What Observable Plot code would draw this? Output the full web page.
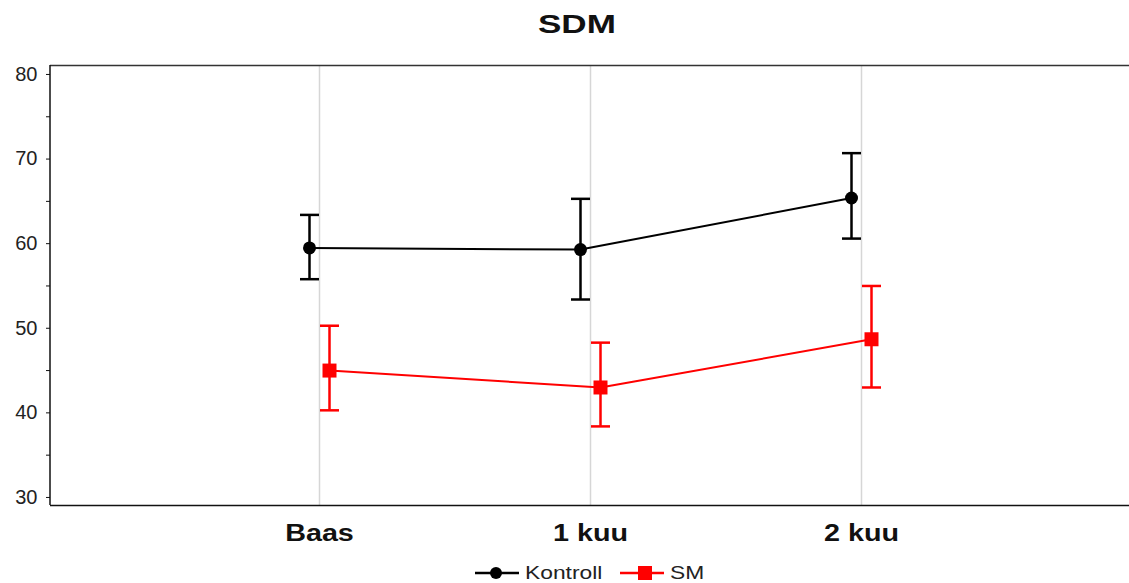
<!DOCTYPE html>
<html>
<head>
<meta charset="utf-8">
<script src="https://cdn.jsdelivr.net/npm/d3@7"></script>
<script src="https://cdn.jsdelivr.net/npm/@observablehq/plot@0.6"></script>
<style>
  body { margin: 0; background: #fff; font-family: "Liberation Sans", Arial, sans-serif; }
  #wrap { position: relative; width: 1129px; height: 583px; overflow: hidden; }
  #title { position: absolute; left: 0; top: 9px; width: 1129px; box-sizing: border-box; padding-left: 25px; text-align: center; font-weight: bold; font-size: 26px; line-height: 30px; color: #111; }
  #title span { display: inline-block; transform: scaleX(1.35); }
  #chart { position: absolute; left: 0; top: 50px; }
  #legend { position: absolute; left: 475px; top: 562px; height: 22px; display: flex; align-items: center; font-size: 19px; color: #222; }
  #legend .item { display: flex; align-items: center; }
  #legend svg { margin-right: 6px; }
  #legend span { display: inline-block; transform: scaleX(1.2); transform-origin: left center; }
</style>
</head>
<body>
<div id="wrap">
  <div id="title"><span>SDM</span></div>
  <div id="chart"></div>
  <div id="legend"></div>
</div>
<script>
const categories = ["Baas", "1 kuu", "2 kuu"];
const seriesNames = ["Kontroll", "SM"];
const kontrollMean = [59.5, 59.3, 65.4];
const kontrollHi   = [63.4, 65.3, 70.7];
const kontrollLo   = [55.8, 53.4, 60.6];
const smMean = [45.0, 43.0, 48.7];
const smHi   = [50.3, 48.3, 55.0];
const smLo   = [40.3, 38.4, 43.0];
const yTicks = [30, 35, 40, 45, 50, 55, 60, 65, 70, 75, 80];

const mk = (mean, hi, lo) => categories.map((c, i) => ({i, cat: c, mean: mean[i], hi: hi[i], lo: lo[i]}));
const kontroll = mk(kontrollMean, kontrollHi, kontrollLo);
const sm = mk(smMean, smHi, smLo);

const capSymbol = { draw(ctx, size) { const w = Math.sqrt(size / Math.PI); ctx.moveTo(-w, 0); ctx.lineTo(w, 0); } };
const squareSymbol = { draw(ctx, size) { const w = Math.sqrt(size / Math.PI); ctx.rect(-w, -w, 2 * w, 2 * w); } };

const yMin = 29.05, yMax = 81.06;
const OFF = 10;

function series(data, color, symbol, r, dx) {
  return [
    Plot.ruleX(data, {x: "i", y1: "lo", y2: "hi", dx, stroke: color, strokeWidth: 2.5}),
    Plot.dot(data, {x: "i", y: "hi", dx, symbol: capSymbol, r: 9.5, stroke: color, strokeWidth: 2.5}),
    Plot.dot(data, {x: "i", y: "lo", dx, symbol: capSymbol, r: 9.5, stroke: color, strokeWidth: 2.5}),
    Plot.line(data, {x: "i", y: "mean", dx, stroke: color, strokeWidth: 2}),
    Plot.dot(data, {x: "i", y: "mean", dx, symbol, r, fill: color, stroke: "none"})
  ];
}

const chart = Plot.plot({
  width: 1129,
  height: 508,
  marginTop: 15,
  marginBottom: 53,
  marginLeft: 50,
  marginRight: 0,
  style: {fontFamily: "'Liberation Sans', Arial, sans-serif", background: "#fff", overflow: "visible"},
  x: {domain: [-1, 3], range: [48, 1132]},
  y: {domain: [yMin, yMax]},
  marks: [
    Plot.ruleX([0, 1, 2], {stroke: "#d6d6d6", strokeWidth: 1.5}),
    Plot.ruleY([yMax], {stroke: "#333", strokeWidth: 1.5}),
    Plot.ruleY([yMin], {stroke: "#111", strokeWidth: 1.5}),
    Plot.axisY({ticks: yTicks, tickFormat: d => d % 10 === 0 ? String(d) : "", tickSize: 4, tickPadding: 9, fontSize: 20, stroke: "#111", fill: "#222", label: null}),
    Plot.axisX({ticks: [0, 1, 2], tickFormat: i => categories[i], tickSize: 0, tickPadding: 19, fontSize: 23, fontWeight: "bold", fill: "#111", label: null}),
    ...series(kontroll, "#000", "circle", 6.5, -OFF),
    ...series(sm, "#ff0000", squareSymbol, 7, OFF)
  ]
});
// left frame line drawn as the y-axis domain line
d3.select(chart).append("line")
  .attr("x1", 50).attr("x2", 50)
  .attr("y1", 15).attr("y2", 508 - 53)
  .attr("stroke", "#111").attr("stroke-width", 1.5);
// widen the x tick labels like the reference rendering
d3.select(chart).selectAll('g[aria-label="x-axis tick label"] text').each(function() {
  const t = this.getAttribute("transform") || "";
  this.setAttribute("transform", t + " scale(1.25,1)");
});
document.getElementById("chart").appendChild(chart);

const legend = document.getElementById("legend");
const swatches = [
  {name: seriesNames[0], color: "#000", marker: `<circle cx="21" cy="10" r="6" fill="#000"/>`, textWidth: 95},
  {name: seriesNames[1], color: "#ff0000", marker: `<rect x="18" y="3" width="14" height="14" fill="#ff0000"/>`, textWidth: 40}
];
for (const s of swatches) {
  const item = document.createElement("div");
  item.className = "item";
  item.style.width = (44 + 6 + s.textWidth) + "px";
  item.innerHTML = `<svg width="44" height="20"><line x1="0" y1="10" x2="44" y2="10" stroke="${s.color}" stroke-width="2.5"/>${s.marker}</svg><span>${s.name}</span>`;
  legend.appendChild(item);
}
</script>
</body>
</html>
